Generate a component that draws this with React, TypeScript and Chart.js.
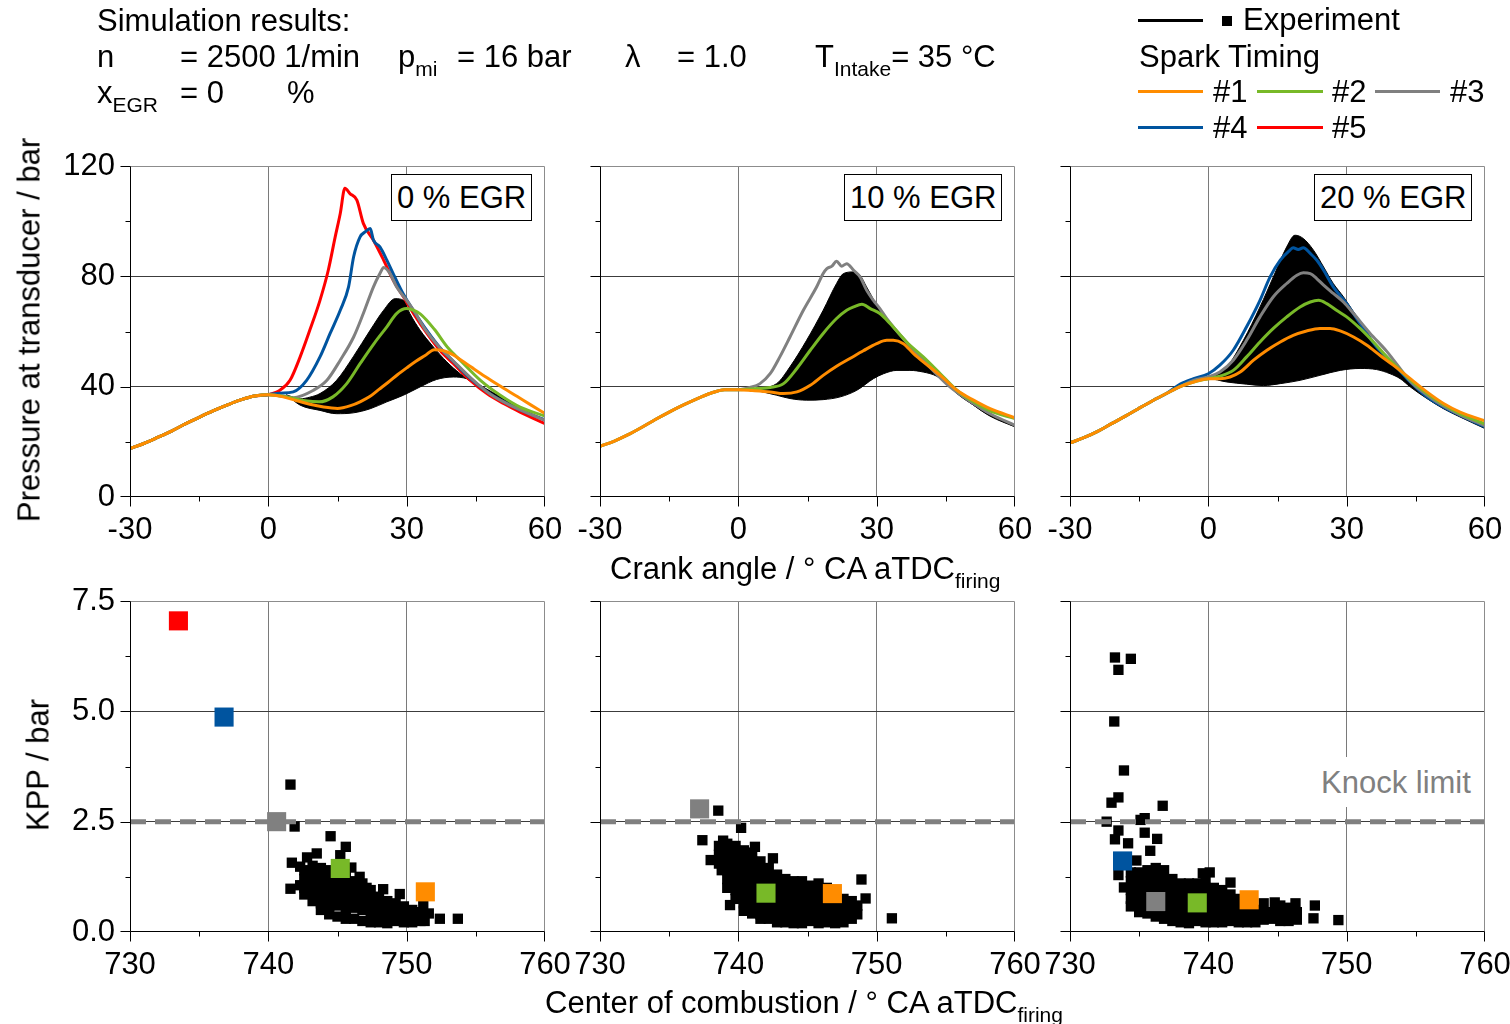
import React, { useEffect, useRef } from 'react';
import { Chart, registerables } from 'chart.js';

Chart.register(...registerables);

const PAGE_W = 1510;
const PAGE_H = 1024;
const FONT = '"Liberation Sans", Arial, Helvetica, sans-serif';
const FS = 31;

const ORANGE = '#FF8C00';
const GREEN = '#78B928';
const GRAY = '#808080';
const BLUE = '#00549F';
const RED = '#FF0000';

type Pt = [number, number];

// ---------- tick labels ----------
const caTicks = [-30, 0, 30, 60];
const pTicks = [0, 40, 80, 120];
const cocTicks = [730, 740, 750, 760];
const kppTicks = [0, 2.5, 5, 7.5];
const egrLabels = ['0 % EGR', '10 % EGR', '20 % EGR'];
const knockLimit = 2.5;

// ---------- 0 % EGR pressure traces (crank angle, bar) ----------
const comp0: Pt[] = [[-30, 17.6], [-27, 19.4], [-24, 21.6], [-21, 23.9], [-18, 26.5], [-15, 28.9], [-12, 31.2], [-9, 33.3], [-6, 35.2], [-3, 36.6], [0, 37.1]];
const orange0: Pt[] = [[0, 37.1], [3, 36.4], [6, 35.0], [9, 33.6], [12, 32.6], [15, 32.1], [18, 33.2], [20, 34.6], [22, 36.4], [24, 39.0], [26, 41.6], [28, 44.3], [30, 46.8], [32, 49.2], [34, 51.3], [36, 53.4], [38, 53.0], [40, 51.6], [42, 49.4], [44, 47.1], [47, 43.7], [50, 40.5], [54, 36.4], [57, 33.3], [60, 30.3]];
const green0: Pt[] = [[0, 37.1], [4, 36.3], [8, 34.9], [11, 34.5], [14, 36.3], [17, 41.1], [20, 48.6], [23, 55.8], [25.7, 61.7], [27.8, 66.5], [30, 68.3], [31.5, 67.7], [33, 66.3], [36, 60.8], [39, 54.0], [41.6, 49.6], [46, 42.3], [50.3, 36.9], [54.6, 32.6], [60, 29.3]];
const gray0: Pt[] = [[0, 37.1], [3, 36.6], [5.4, 36.0], [9.8, 38.7], [12.7, 42.3], [15.6, 49.6], [18.5, 58.0], [20.6, 66.5], [22.8, 76.2], [24.2, 81.0], [25, 83.2], [26.4, 81.0], [27.8, 76.2], [30, 71.3], [31.5, 67.7], [34, 60.8], [37, 54.5], [40, 49.5], [44, 43.0], [48, 37.4], [52, 33.6], [56, 30.6], [60, 27.8]];
const blue0: Pt[] = [[0, 37.1], [2.5, 37.6], [5.4, 38.1], [8.3, 42.3], [11.2, 50.8], [13.4, 59.3], [15.6, 67.7], [17.4, 76.2], [18.5, 87.1], [19.9, 94.3], [21, 96.1], [22.1, 97.3], [22.8, 93.1], [24.2, 90.7], [25.7, 85.9], [27.5, 79.5], [29.3, 73.5], [31.5, 67.5], [34.4, 60.3], [37.2, 54.2], [40.1, 49.2], [43.8, 43.0], [47.4, 38.2], [51, 34.6], [54.6, 31.6], [60, 28.0]];
const red0: Pt[] = [[0, 37.1], [2.5, 38.7], [4.7, 42.3], [6.9, 50.8], [9, 60.5], [11.2, 71.3], [13, 82.2], [14.5, 94.3], [15.6, 102.8], [16.6, 111.9], [17.7, 110.0], [19.2, 107.6], [20.6, 99.2], [22.8, 93.1], [25, 85.9], [27.1, 78.6], [29.3, 72.6], [31.5, 66.5], [34.4, 59.3], [37.2, 53.2], [40.1, 48.4], [43.8, 42.3], [47.4, 37.5], [51, 33.9], [54.6, 30.8], [60, 26.6]];
const band0Upper: Pt[] = [[4, 37.0], [6.9, 35.6], [9, 36.2], [11.2, 37.5], [14.8, 42.3], [18.4, 50.8], [22.1, 60.5], [25, 67.7], [27.5, 71.9], [29.3, 71.3], [30.7, 66.5], [32.9, 60.5], [35.8, 54.4], [38.7, 49.0], [41.6, 44.7], [45, 40.6], [50, 35.2], [55, 31.0], [60, 27.6]];
const band0Lower: Pt[] = [[4, 37.0], [6.9, 33.3], [11.2, 31.4], [14.8, 30.2], [18.4, 30.5], [22.1, 32.0], [25.7, 34.5], [29.3, 36.9], [32.9, 39.9], [36.5, 42.6], [40.1, 43.5], [43, 42.9], [45.9, 40.5], [51, 35.7], [55, 32.0], [60, 27.6]];

// ---------- 10 % EGR ----------
const comp10: Pt[] = [[-30, 18.4], [-27, 20.2], [-24, 22.5], [-21, 25.2], [-18, 28.1], [-15, 30.8], [-12, 33.3], [-9, 35.6], [-6, 37.6], [-3, 38.9], [0, 38.9]];
const orange10: Pt[] = [[0, 38.9], [3, 38.6], [6.9, 38.1], [9.8, 37.5], [12.7, 38.1], [15.6, 40.5], [18.4, 44.1], [21.3, 47.4], [24.2, 50.2], [27.1, 53.0], [30, 55.6], [32.2, 56.8], [33.6, 56.8], [35.8, 55.6], [38, 52.0], [40.1, 49.0], [43.8, 44.1], [47.4, 38.7], [51, 35.1], [54.6, 32.0], [60, 28.7]];
const green10: Pt[] = [[0, 38.9], [4, 39.3], [6.9, 39.7], [9.8, 41.1], [12.7, 46.6], [15.6, 53.2], [18.4, 59.3], [21.3, 64.7], [23.5, 67.7], [25, 68.9], [26.8, 69.9], [28.6, 68.3], [30.7, 66.5], [32.9, 62.9], [36.5, 56.2], [40.1, 50.8], [43.8, 44.7], [47.4, 38.7], [51, 34.5], [54.6, 31.2], [60, 28.4]];
const gray10: Pt[] = [[0, 38.9], [2.5, 39.7], [4.7, 41.1], [6.9, 44.7], [9, 50.8], [11.2, 58.0], [14.1, 67.7], [17, 76.2], [18.4, 81.0], [19.2, 82.8], [20.3, 83.7], [21.3, 85.5], [22.4, 83.7], [23.5, 84.6], [25, 82.2], [26.4, 79.8], [27.8, 75.0], [29.3, 71.3], [30.7, 68.3], [32.2, 64.7], [36, 57.0], [40.1, 49.6], [45.9, 39.9], [51, 33.9], [55, 29.8], [60, 26.0]];
const band10Upper: Pt[] = [[3, 39.0], [8.3, 41.1], [11.2, 47.2], [14.8, 56.8], [18.4, 67.7], [21.3, 77.4], [22.8, 81.0], [25, 81.6], [26.4, 80.4], [27.8, 76.2], [30.7, 67.7], [32.9, 62.9], [36.5, 56.2], [40.1, 49.6], [43.8, 43.5], [47.4, 37.5], [51, 33.3], [54.6, 29.6], [60, 26.0]];
const band10Lower: Pt[] = [[3, 39.0], [8.3, 36.9], [11.2, 35.7], [14.8, 35.1], [18.4, 35.3], [22.1, 36.3], [25.7, 38.7], [29.3, 42.9], [31.5, 44.7], [34.4, 45.9], [37.2, 45.9], [40.1, 45.3], [43, 43.8], [45.9, 40.1], [51, 33.3], [54.6, 29.3], [60, 25.4]];

// ---------- 20 % EGR ----------
const comp20: Pt[] = [[-30, 19.6], [-27, 21.5], [-24, 23.8], [-21, 26.6], [-18, 29.3], [-15, 32.2], [-12, 35.0], [-9, 37.6], [-6, 40.1], [-3, 41.8], [0, 42.9]];
const orange20: Pt[] = [[0, 42.9], [2.5, 42.9], [4.7, 43.5], [6.9, 45.3], [9.8, 49.6], [12.7, 53.2], [15.6, 56.2], [18.4, 58.6], [21.3, 60.2], [24.2, 61.1], [26.4, 61.1], [28.6, 60.2], [31.5, 58.0], [34.4, 55.0], [37.2, 51.4], [40.1, 47.8], [43.8, 42.9], [47.4, 38.1], [51, 33.9], [54.6, 30.8], [60, 27.6]];
const green20: Pt[] = [[0, 42.9], [2.5, 43.8], [5.4, 45.9], [8.3, 50.8], [11.2, 56.2], [14.1, 61.1], [17, 65.3], [19.9, 68.9], [22.1, 70.7], [23.9, 71.3], [25.7, 70.1], [27.8, 67.7], [30, 65.3], [32.9, 61.1], [35.8, 56.2], [38.7, 50.8], [43.8, 42.5], [47.4, 37.6], [51, 33.5], [54.6, 30.2], [60, 26.5]];
const gray20: Pt[] = [[-3.2, 42.3], [0, 43.5], [2.5, 45.3], [5.4, 49.6], [8.3, 56.8], [11.2, 65.3], [14.1, 72.6], [17, 77.4], [19.2, 80.4], [20.6, 81.3], [22.1, 81.0], [23.5, 79.2], [25, 76.8], [27.1, 73.8], [29.3, 70.7], [31.5, 66.5], [35, 59.5], [38.7, 52.8], [43.8, 42.0], [47.4, 37.0], [51, 33.0], [54.6, 29.8], [60, 25.8]];
const blue20: Pt[] = [[-6.1, 40.9], [-3.2, 42.9], [0, 44.7], [2.5, 47.8], [5.4, 53.2], [8.3, 61.7], [11.2, 71.3], [13.4, 79.8], [15.6, 85.9], [17.7, 89.5], [18.4, 90.4], [19.5, 89.7], [20.6, 90.4], [22.1, 88.3], [23.5, 85.9], [25, 82.2], [27.1, 76.2], [30, 70.1], [32.9, 62.9], [36.5, 54.4], [40.1, 48.4], [43.8, 41.7], [47.4, 36.3], [51, 32.6], [54.6, 29.6], [60, 25.4]];
const band20Upper: Pt[] = [[-2, 42.6], [0, 43.5], [4, 47.2], [7.6, 56.8], [11.2, 68.9], [14.1, 79.8], [17, 90.7], [18.8, 94.9], [20.6, 93.7], [22.8, 89.5], [25, 83.4], [27.1, 77.4], [29.3, 72.6], [31.5, 67.1], [34, 61.0], [36.5, 54.4], [40.1, 48.4], [43.8, 41.7], [47.4, 36.0], [51, 32.2], [54.6, 29.3], [60, 25.0]];
const band20Lower: Pt[] = [[-2, 42.6], [0, 42.9], [4, 41.7], [8.3, 40.9], [11.9, 40.4], [15.6, 41.1], [19.9, 42.3], [24.2, 44.1], [28.6, 45.9], [32.9, 46.6], [36.5, 46.2], [39.4, 44.7], [41.6, 42.9], [43.8, 39.9], [47.4, 35.7], [51, 32.0], [54.6, 29.0], [60, 24.8]];

// ---------- KPP vs centre of combustion: experiment ----------
const exp0: Pt[] = [
  [741.6, 3.34], [741.9, 2.39], [744.5, 2.17], [745.6, 1.93], [743.5, 1.78], [742.8, 1.69], [741.7, 1.57], [742.3, 1.48], [745.2, 1.74], [746.0, 1.46],
  [741.6, 0.98], [742.3, 1.06], [748.3, 0.97], [749.5, 0.86], [751.2, 0.61], [751.6, 0.42], [751.3, 0.25], [752.4, 0.30], [753.7, 0.30], [747.1, 1.00], [746.6, 1.25],
  [742.6, 1.4], [742.6, 1.2], [742.6, 1.0], [742.6, 0.85],
  [743.2, 1.5], [743.2, 1.3], [743.2, 1.1], [743.2, 0.9], [743.2, 0.7],
  [743.8, 1.45], [743.8, 1.25], [743.8, 1.05], [743.8, 0.85], [743.8, 0.65], [743.8, 0.5],
  [744.4, 1.4], [744.4, 1.2], [744.4, 1.0], [744.4, 0.8], [744.4, 0.6], [744.4, 0.4],
  [745.0, 1.2], [745.0, 1.0], [745.0, 0.8], [745.0, 0.6], [745.0, 0.35],
  [745.6, 1.25], [745.6, 1.05], [745.6, 0.85], [745.6, 0.65], [745.6, 0.45], [745.6, 0.3],
  [746.2, 1.15], [746.2, 0.95], [746.2, 0.75], [746.2, 0.55], [746.2, 0.3],
  [746.8, 1.1], [746.8, 0.9], [746.8, 0.7], [746.8, 0.5], [746.8, 0.25],
  [747.4, 0.95], [747.4, 0.75], [747.4, 0.55], [747.4, 0.35], [747.4, 0.22],
  [748.0, 0.8], [748.0, 0.6], [748.0, 0.4], [748.0, 0.22],
  [748.6, 0.7], [748.6, 0.5], [748.6, 0.3], [748.6, 0.2],
  [749.2, 0.65], [749.2, 0.45], [749.2, 0.25],
  [749.8, 0.58], [749.8, 0.4], [749.8, 0.22],
  [750.4, 0.5], [750.4, 0.3], [750.4, 0.22],
  [751.0, 0.45], [751.0, 0.25],
];
const exp10: Pt[] = [
  [738.55, 2.75], [740.2, 2.36], [737.4, 2.08], [738.9, 2.07], [741.2, 1.93], [742.5, 1.67], [738.0, 1.63], [738.8, 1.40], [739.4, 0.61], [748.9, 1.19], [749.2, 0.76], [751.1, 0.31],
  [738.6, 1.95], [738.6, 1.75], [738.6, 1.55],
  [739.2, 2.0], [739.2, 1.8], [739.2, 1.6], [739.2, 1.4], [739.2, 1.2], [739.2, 1.0],
  [739.8, 1.95], [739.8, 1.75], [739.8, 1.55], [739.8, 1.35], [739.8, 1.15], [739.8, 0.95], [739.8, 0.75],
  [740.4, 1.85], [740.4, 1.65], [740.4, 1.45], [740.4, 1.25], [740.4, 1.05], [740.4, 0.85], [740.4, 0.65], [740.4, 0.48],
  [741.0, 1.8], [741.0, 1.6], [741.0, 1.4], [741.0, 1.2], [741.0, 1.0], [741.0, 0.8], [741.0, 0.6], [741.0, 0.42],
  [741.6, 1.6], [741.6, 1.4], [741.6, 1.2], [741.6, 1.0], [741.6, 0.8], [741.6, 0.6], [741.6, 0.4], [741.6, 0.3],
  [742.2, 1.45], [742.2, 1.25], [742.2, 1.05], [742.2, 0.85], [742.2, 0.65], [742.2, 0.45], [742.2, 0.3],
  [742.8, 1.3], [742.8, 1.1], [742.8, 0.9], [742.8, 0.7], [742.8, 0.5], [742.8, 0.3], [742.8, 0.22],
  [743.4, 1.2], [743.4, 1.0], [743.4, 0.8], [743.4, 0.6], [743.4, 0.4], [743.4, 0.22],
  [744.0, 1.15], [744.0, 0.95], [744.0, 0.75], [744.0, 0.55], [744.0, 0.35], [744.0, 0.2],
  [744.6, 1.15], [744.6, 0.95], [744.6, 0.75], [744.6, 0.55], [744.6, 0.35], [744.6, 0.2],
  [745.2, 1.05], [745.2, 0.85], [745.2, 0.65], [745.2, 0.45], [745.2, 0.25],
  [745.8, 1.1], [745.8, 0.9], [745.8, 0.7], [745.8, 0.5], [745.8, 0.3], [745.8, 0.2],
  [746.4, 1.0], [746.4, 0.8], [746.4, 0.6], [746.4, 0.4], [746.4, 0.22],
  [747.0, 0.9], [747.0, 0.7], [747.0, 0.5], [747.0, 0.3], [747.0, 0.2],
  [747.6, 0.75], [747.6, 0.55], [747.6, 0.35], [747.6, 0.22],
  [748.2, 0.7], [748.2, 0.5], [748.2, 0.3],
  [748.6, 0.6], [748.6, 0.4],
];
const exp20: Pt[] = [
  [733.25, 6.22], [734.4, 6.19], [733.5, 5.94], [733.2, 4.77], [733.9, 3.66], [733.5, 3.05], [733.0, 2.93], [736.7, 2.86], [732.65, 2.50], [735.1, 2.54],
  [735.4, 2.58], [733.5, 2.30], [733.25, 2.10], [734.2, 2.01], [735.4, 2.25], [736.3, 2.11], [735.8, 1.84], [734.8, 1.62], [733.5, 1.29], [733.9, 1.01],
  [741.6, 1.12], [740.1, 1.35], [739.6, 1.33], [747.7, 0.60], [749.4, 0.27], [747.6, 0.31], [746.3, 0.65], [744.8, 0.67],
  [734.4, 1.35], [734.4, 1.15], [734.4, 0.95], [734.4, 0.75], [734.4, 0.58],
  [735.0, 1.35], [735.0, 1.15], [735.0, 0.95], [735.0, 0.75], [735.0, 0.55], [735.0, 0.45],
  [735.6, 1.4], [735.6, 1.2], [735.6, 1.0], [735.6, 0.8], [735.6, 0.6], [735.6, 0.42],
  [736.2, 1.45], [736.2, 1.25], [736.2, 1.05], [736.2, 0.85], [736.2, 0.5], [736.2, 0.35],
  [736.8, 1.4], [736.8, 1.2], [736.8, 1.0], [736.8, 0.8], [736.8, 0.6], [736.8, 0.4], [736.8, 0.3],
  [737.4, 1.2], [737.4, 1.0], [737.4, 0.8], [737.4, 0.6], [737.4, 0.4], [737.4, 0.25],
  [738.0, 1.1], [738.0, 0.9], [738.0, 0.7], [738.0, 0.5], [738.0, 0.3], [738.0, 0.22],
  [738.6, 1.1], [738.6, 0.9], [738.6, 0.7], [738.6, 0.5], [738.6, 0.3], [738.6, 0.2],
  [739.2, 1.1], [739.2, 0.9], [739.2, 0.45], [739.2, 0.25],
  [739.8, 1.2], [739.8, 1.0], [739.8, 0.8], [739.8, 0.6], [739.8, 0.4], [739.8, 0.22],
  [740.4, 1.0], [740.4, 0.8], [740.4, 0.6], [740.4, 0.4], [740.4, 0.22],
  [741.0, 0.95], [741.0, 0.75], [741.0, 0.55], [741.0, 0.35], [741.0, 0.22],
  [741.6, 0.85], [741.6, 0.65], [741.6, 0.45], [741.6, 0.25],
  [742.2, 0.75], [742.2, 0.55], [742.2, 0.35], [742.2, 0.22],
  [742.8, 0.5], [742.8, 0.3], [742.8, 0.22],
  [743.4, 0.5], [743.4, 0.3], [743.4, 0.22],
  [744.0, 0.65], [744.0, 0.45], [744.0, 0.28],
  [744.6, 0.45], [744.6, 0.3],
  [745.2, 0.6], [745.2, 0.4], [745.2, 0.25],
  [745.8, 0.55], [745.8, 0.35], [745.8, 0.25],
  [746.4, 0.45], [746.4, 0.28],
];

// ---------- KPP vs centre of combustion: simulation (spark timings #1..#5) ----------
const sim0: Pt[] = [[751.35, 0.91], [745.2, 1.44], [740.6, 2.5], [736.8, 4.87], [733.5, 7.05]];
const sim10: Pt[] = [[746.8, 0.87], [742.0, 0.88], [737.2, 2.79]];
const sim20: Pt[] = [[742.95, 0.73], [739.2, 0.66], [736.2, 0.69], [733.8, 1.61]];

// ---------- layout ----------
const X_AXIS_H = 50;
const Y_AXIS_W = 100;
const PANEL_LEFTS = [130, 600, 1070];
const PANEL_W = 415;
const ROW_TOP = { top: 166, bottom: 497 };
const ROW_BOT = { top: 601, bottom: 932 };
const TRANSPARENT = 'rgba(0,0,0,0)';

interface AxisDef {
  min: number; max: number; step: number; labels: number[]; grid: number[]; gridColor: string; fmt: (v: number) => string;
}

const near = (arr: number[], v: number) => arr.some((a) => Math.abs(a - v) < 1e-6);
const xy = (a: Pt[]) => a.map(([x, y]) => ({ x, y }));

function makeScales(xd: AxisDef, yd: AxisDef, showY: boolean) {
  return {
    x: {
      type: 'linear', min: xd.min, max: xd.max,
      afterFit: (s: any) => { s.height = X_AXIS_H; s.paddingLeft = 0; s.paddingRight = 0; },
      border: { display: false },
      grid: { drawTicks: false, lineWidth: 1, color: (c: any) => (c.tick && near(xd.grid, c.tick.value) ? xd.gridColor : TRANSPARENT) },
      ticks: {
        stepSize: xd.step, autoSkip: false, maxRotation: 0, minRotation: 0, padding: 15, color: '#000',
        font: { family: FONT, size: FS },
        callback: (v: any) => (near(xd.labels, Number(v)) ? xd.fmt(Number(v)) : ''),
      },
    },
    y: {
      type: 'linear', min: yd.min, max: yd.max,
      afterFit: (s: any) => { s.width = Y_AXIS_W; s.paddingTop = 0; s.paddingBottom = 0; },
      border: { display: false },
      grid: { drawTicks: false, lineWidth: 1, color: (c: any) => (c.tick && near(yd.grid, c.tick.value) ? yd.gridColor : TRANSPARENT) },
      ticks: {
        display: showY, stepSize: yd.step, autoSkip: false, padding: 15, color: '#000',
        font: { family: FONT, size: FS },
        callback: (v: any) => (near(yd.labels, Number(v)) ? yd.fmt(Number(v)) : ''),
      },
    },
  };
}

function framePlugin(xd: AxisDef, yd: AxisDef) {
  return {
    id: 'frameTicks',
    afterDatasetsDraw(chart: any) {
      const { ctx, chartArea } = chart;
      const sx = chart.scales.x;
      const sy = chart.scales.y;
      const L = Math.round(chartArea.left) + 0.5;
      const R = Math.round(chartArea.right) - 0.5;
      const T = Math.round(chartArea.top) + 0.5;
      const B = Math.round(chartArea.bottom) - 0.5;
      const clampX = (p: number) => Math.min(R, Math.max(L, Math.round(p) + 0.5));
      const clampY = (p: number) => Math.min(B, Math.max(T, Math.round(p) + 0.5));
      ctx.save();
      ctx.lineWidth = 1;
      ctx.strokeStyle = '#8c8c8c';
      ctx.beginPath();
      ctx.moveTo(L, T); ctx.lineTo(R, T); ctx.lineTo(R, B);
      ctx.stroke();
      ctx.strokeStyle = '#000';
      ctx.beginPath();
      ctx.moveTo(L, T); ctx.lineTo(L, B); ctx.lineTo(R, B);
      for (let k = 0; ; k++) {
        const v = xd.min + k * xd.step;
        if (v > xd.max + 1e-9) break;
        const px = clampX(sx.getPixelForValue(v));
        ctx.moveTo(px, B); ctx.lineTo(px, B + (near(xd.labels, v) ? 10 : 5));
      }
      for (let k = 0; ; k++) {
        const v = yd.min + k * yd.step;
        if (v > yd.max + 1e-9) break;
        const py = clampY(sy.getPixelForValue(v));
        ctx.moveTo(L, py); ctx.lineTo(L - (near(yd.labels, v) ? 10 : 5), py);
      }
      ctx.stroke();
      ctx.restore();
    },
  };
}

const caAxis: AxisDef = { min: -30, max: 60, step: 15, labels: caTicks, grid: [0, 30], gridColor: '#7a7a7a', fmt: (v) => String(v) };
const pAxis: AxisDef = { min: 0, max: 120, step: 20, labels: pTicks, grid: [40, 80], gridColor: '#3c3c3c', fmt: (v) => String(v) };
const cocAxis: AxisDef = { min: 730, max: 760, step: 5, labels: cocTicks, grid: [740, 750], gridColor: '#7a7a7a', fmt: (v) => String(v) };
const kppAxis: AxisDef = { min: 0, max: 7.5, step: 1.25, labels: kppTicks, grid: [2.5, 5], gridColor: '#3c3c3c', fmt: (v) => v.toFixed(1) };

interface TopPanel { comp: Pt[]; upper: Pt[]; lower: Pt[]; curves: { pts: Pt[]; color: string }[] }

const topPanels: TopPanel[] = [
  { comp: comp0, upper: band0Upper, lower: band0Lower, curves: [{ pts: orange0, color: ORANGE }, { pts: green0, color: GREEN }, { pts: gray0, color: GRAY }, { pts: blue0, color: BLUE }, { pts: red0, color: RED }] },
  { comp: comp10, upper: band10Upper, lower: band10Lower, curves: [{ pts: orange10, color: ORANGE }, { pts: green10, color: GREEN }, { pts: gray10, color: GRAY }] },
  { comp: comp20, upper: band20Upper, lower: band20Lower, curves: [{ pts: orange20, color: ORANGE }, { pts: green20, color: GREEN }, { pts: gray20, color: GRAY }, { pts: blue20, color: BLUE }] },
];
const botPanels = [
  { exp: exp0, sim: sim0, simColors: [ORANGE, GREEN, GRAY, BLUE, RED] },
  { exp: exp10, sim: sim10, simColors: [ORANGE, GREEN, GRAY] },
  { exp: exp20, sim: sim20, simColors: [ORANGE, GREEN, GRAY, BLUE] },
];

const withCompression = (comp: Pt[], pts: Pt[]) => comp.filter(([x]) => x < pts[0][0]).concat(pts);

function padding(i: number, row: { top: number; bottom: number }) {
  const left = PANEL_LEFTS[i];
  return { left: left - Y_AXIS_W, right: PAGE_W - (left + PANEL_W), top: row.top, bottom: PAGE_H - row.bottom - X_AXIS_H };
}

const commonOptions = {
  responsive: false,
  maintainAspectRatio: false,
  animation: false,
  devicePixelRatio: 1,
  events: [],
};

function topConfig(i: number) {
  const p = topPanels[i];
  const datasets: any[] = [
    { data: xy(p.upper), borderColor: '#000', backgroundColor: '#000', borderWidth: 1, fill: '+1', order: 10 },
    { data: xy(p.lower), borderColor: '#000', borderWidth: 1, fill: false, order: 11 },
    ...p.curves.map((c, k) => ({ data: xy(withCompression(p.comp, c.pts)), borderColor: c.color, borderWidth: 3, fill: false, order: 1 + k })),
  ];
  return {
    type: 'line',
    data: { datasets },
    options: {
      ...commonOptions,
      layout: { padding: padding(i, ROW_TOP) },
      plugins: { legend: { display: false }, tooltip: { enabled: false } },
      elements: { point: { radius: 0 }, line: { cubicInterpolationMode: 'monotone', borderCapStyle: 'round', borderJoinStyle: 'round' } },
      scales: makeScales(caAxis, pAxis, i === 0),
    },
    plugins: [framePlugin(caAxis, pAxis)],
  };
}

function botConfig(i: number) {
  const p = botPanels[i];
  const datasets: any[] = [
    ...p.sim.map((pt, k) => ({
      type: 'scatter', data: xy([pt]), pointStyle: 'rect', pointRadius: 13.5, backgroundColor: p.simColors[k], borderColor: p.simColors[k], borderWidth: 0, order: 0,
    })),
    {
      type: 'line', data: xy([[730, knockLimit], [760, knockLimit]]), borderColor: GRAY, borderWidth: 5, borderDash: [16, 9], borderCapStyle: 'butt', pointRadius: 0, fill: false, order: 1,
    },
    { type: 'scatter', data: xy(p.exp), pointStyle: 'rect', pointRadius: 7.3, backgroundColor: '#000', borderColor: '#000', borderWidth: 0, order: 2 },
  ];
  return {
    type: 'scatter',
    data: { datasets },
    options: {
      ...commonOptions,
      layout: { padding: padding(i, ROW_BOT) },
      plugins: { legend: { display: false }, tooltip: { enabled: false } },
      scales: makeScales(cocAxis, kppAxis, i === 0),
    },
    plugins: [framePlugin(cocAxis, kppAxis)],
  };
}

function ChartCanvas({ make }: { make: () => any }) {
  const ref = useRef<HTMLCanvasElement>(null);
  useEffect(() => {
    const chart = new Chart(ref.current as HTMLCanvasElement, make());
    return () => chart.destroy();
  }, []);
  return (
    <canvas
      ref={ref}
      width={PAGE_W}
      height={PAGE_H}
      style={{ position: 'absolute', left: 0, top: 0, width: PAGE_W, height: PAGE_H }}
    />
  );
}

const Sub = ({ children }: { children: React.ReactNode }) => (
  <span style={{ fontSize: 21, position: 'relative', top: 9 }}>{children}</span>
);

function Txt({ left, top, children, style }: { left: number; top: number; children: React.ReactNode; style?: React.CSSProperties }) {
  return (
    <div style={{ position: 'absolute', left, top, fontSize: FS, lineHeight: 1, whiteSpace: 'nowrap', color: '#000', ...style }}>
      {children}
    </div>
  );
}

function Bar({ left, y, width, color, h = 3 }: { left: number; y: number; width: number; color: string; h?: number }) {
  return <div style={{ position: 'absolute', left, top: y - h / 2, width, height: h, background: color }} />;
}

const egrBoxLefts = [391, 844, 1314];

export default function App() {
  return (
    <div style={{ position: 'absolute', left: 0, top: 0, width: PAGE_W, height: PAGE_H, background: '#fff', fontFamily: FONT, overflow: 'hidden' }}>
      {[0, 1, 2].map((i) => <ChartCanvas key={'t' + i} make={() => topConfig(i)} />)}
      {[0, 1, 2].map((i) => <ChartCanvas key={'b' + i} make={() => botConfig(i)} />)}

      {/* header */}
      <Txt left={97} top={5}>Simulation results:</Txt>
      <Txt left={97} top={41}>n</Txt>
      <Txt left={180} top={41}>= 2500 1/min</Txt>
      <Txt left={398} top={41}>p<Sub>mi</Sub></Txt>
      <Txt left={457} top={41}>= 16 bar</Txt>
      <Txt left={625} top={41}>λ</Txt>
      <Txt left={677} top={41}>= 1.0</Txt>
      <Txt left={815} top={41}>T<Sub>Intake</Sub>= 35 °C</Txt>
      <Txt left={97} top={77}>x<Sub>EGR</Sub></Txt>
      <Txt left={180} top={77}>= 0</Txt>
      <Txt left={287} top={77}>%</Txt>

      {/* legend */}
      <Bar left={1138} y={20} width={65} color="#000" />
      <div style={{ position: 'absolute', left: 1222, top: 16, width: 10, height: 10, background: '#000' }} />
      <Txt left={1243} top={4}>Experiment</Txt>
      <Txt left={1139} top={41}>Spark Timing</Txt>
      <Bar left={1138} y={91} width={65} color={ORANGE} />
      <Txt left={1213} top={76}>#1</Txt>
      <Bar left={1257} y={91} width={66} color={GREEN} />
      <Txt left={1332} top={76}>#2</Txt>
      <Bar left={1375} y={91} width={65} color={GRAY} />
      <Txt left={1450} top={76}>#3</Txt>
      <Bar left={1138} y={127} width={65} color={BLUE} />
      <Txt left={1213} top={112}>#4</Txt>
      <Bar left={1257} y={127} width={66} color={RED} />
      <Txt left={1332} top={112}>#5</Txt>

      {/* EGR boxes */}
      {egrLabels.map((t, i) => (
        <div key={t} style={{ position: 'absolute', left: egrBoxLefts[i], top: 174, height: 45, lineHeight: '45px', padding: '0 5px', border: '1px solid #000', background: '#fff', fontSize: FS, whiteSpace: 'nowrap' }}>
          {t}
        </div>
      ))}

      {/* knock limit label */}
      <div style={{ position: 'absolute', left: 1318, top: 757, width: 156, height: 50, background: '#fff' }}>
        <div style={{ position: 'absolute', left: 3, top: 10, fontSize: FS, lineHeight: 1, color: GRAY, whiteSpace: 'nowrap' }}>Knock limit</div>
      </div>

      {/* axis titles */}
      <div style={{ position: 'absolute', left: 29, top: 330, transform: 'translate(-50%, -50%) rotate(-90deg)', fontSize: FS, lineHeight: 1, whiteSpace: 'nowrap' }}>
        Pressure at transducer / bar
      </div>
      <div style={{ position: 'absolute', left: 38, top: 765, transform: 'translate(-50%, -50%) rotate(-90deg)', fontSize: FS, lineHeight: 1, whiteSpace: 'nowrap' }}>
        KPP / bar
      </div>
      <Txt left={610} top={553}>Crank angle / ° CA aTDC<Sub>firing</Sub></Txt>
      <Txt left={545} top={987}>Center of combustion / ° CA aTDC<Sub>firing</Sub></Txt>
    </div>
  );
}
